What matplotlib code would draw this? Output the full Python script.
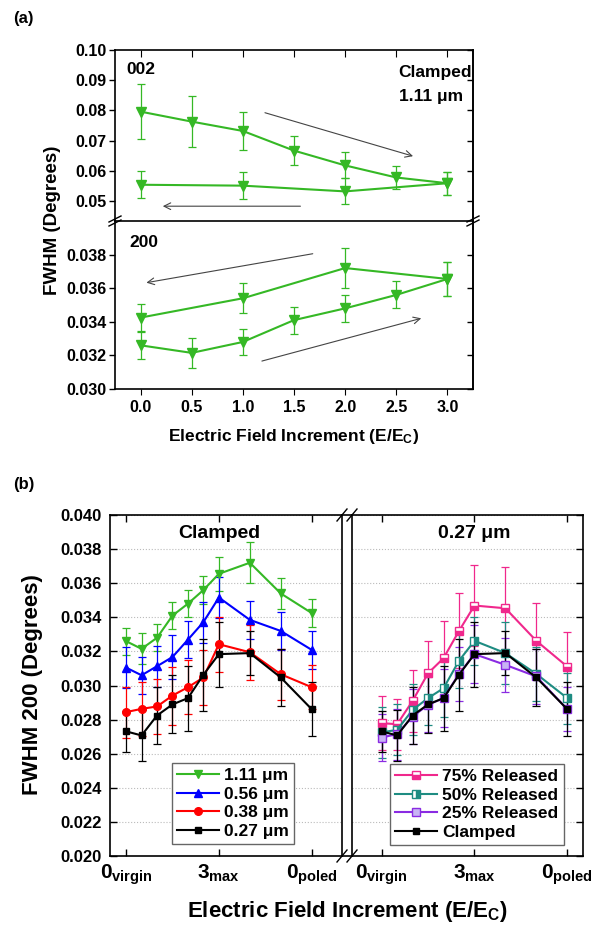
# FWHM vs electric field increment, panels (a) and (b)

import matplotlib
matplotlib.use('Agg')
import matplotlib.pyplot as plt
from matplotlib.lines import Line2D

plt.rcParams['font.family'] = 'Liberation Sans'
plt.rcParams['font.weight'] = 'bold'
plt.rcParams['mathtext.fontset'] = 'custom'
plt.rcParams['mathtext.rm'] = 'Liberation Sans:bold'
plt.rcParams['mathtext.bf'] = 'Liberation Sans:bold'
plt.rcParams['mathtext.it'] = 'Liberation Sans:bold'
plt.rcParams['axes.linewidth'] = 1.2

# ---- data, panel (a): 1.11 um clamped film ----
field_up = [0.0, 0.5, 1.0, 1.5, 2.0, 2.5, 3.0]
field_down = [3.0, 2.0, 1.0, 0.0]

fwhm002_up = [0.0796, 0.0763, 0.0732, 0.0667, 0.0618, 0.0578, 0.0559]
err002_up = [0.0092, 0.0085, 0.0062, 0.0047, 0.0043, 0.0038, 0.0038]
fwhm002_down = [0.0559, 0.0532, 0.0551, 0.0554]
err002_down = [0.0038, 0.0043, 0.0044, 0.0045]

fwhm200_up = [0.0326, 0.03215, 0.0328, 0.0341, 0.0348, 0.0356, 0.03655]
err200_up = [0.0008, 0.0009, 0.0008, 0.0008, 0.0008, 0.0008, 0.0010]
fwhm200_down = [0.03655, 0.0372, 0.0354, 0.03425]
err200_down = [0.0010, 0.0012, 0.0009, 0.0008]

# ---- data, panel (b): sequence of field steps 0 -> 3 -> 0 ----
step = [0, 0.5, 1, 1.5, 2, 2.5, 3, 4, 5, 6]
step_ticks = [0, 3, 6]
step_labels = [r'$0_{virgin}$', r'$3_{max}$', r'$0_{poled}$']

t111 = fwhm200_up + fwhm200_down[1:]
t111_err = err200_up + err200_down[1:]
t056 = [0.03105, 0.0306, 0.03113, 0.03167, 0.03269, 0.03372, 0.03516, 0.03385, 0.0332, 0.03209]
t056_err = [0.0012, 0.0011, 0.0012, 0.0013, 0.0011, 0.0012, 0.0012, 0.0011, 0.0011, 0.0011]
t038 = [0.02844, 0.02863, 0.02877, 0.02941, 0.0299, 0.03047, 0.03242, 0.03195, 0.03066, 0.0299]
t038_err = [0.0015, 0.0016, 0.0016, 0.0017, 0.0016, 0.0016, 0.0016, 0.0016, 0.0015, 0.0013]
t027 = [0.02731, 0.02707, 0.02824, 0.02889, 0.02926, 0.03063, 0.03184, 0.0319, 0.03047, 0.02861]
t027_err = [0.0012, 0.0015, 0.0017, 0.0017, 0.0019, 0.0021, 0.0019, 0.0013, 0.0017, 0.0016]

rel75 = [0.02779, 0.02773, 0.0291, 0.03072, 0.0316, 0.0332, 0.03469, 0.03453, 0.03262, 0.03111]
rel75_err = [0.0016, 0.0015, 0.0018, 0.0019, 0.0022, 0.0022, 0.0024, 0.0024, 0.0022, 0.0020]
rel50 = [0.02725, 0.0274, 0.02857, 0.02926, 0.02984, 0.03145, 0.03262, 0.0319, 0.03068, 0.02926]
rel50_err = [0.0015, 0.0015, 0.0015, 0.0016, 0.0017, 0.0016, 0.0014, 0.0018, 0.0016, 0.0015]
rel25 = [0.02695, 0.02715, 0.02818, 0.02887, 0.02926, 0.03068, 0.03184, 0.03121, 0.03053, 0.02861]
rel25_err = [0.0014, 0.0015, 0.0016, 0.0016, 0.0017, 0.0016, 0.0017, 0.0016, 0.0016, 0.0013]

GREEN = '#35B825'
BLUE = '#0000FF'
RED = '#FF0000'
PINK = '#F0288C'
TEAL = '#1E8C82'
PURPLE = '#8A2BE2'

W, H = 616, 926
fig = plt.figure(figsize=(W / 100, H / 100), dpi=100)


def px_axes(l, t, r, b):
    return fig.add_axes([l / W, 1 - b / H, (r - l) / W, (b - t) / H])


def ftext(x, y, s, **kw):
    kw.setdefault('ha', 'left')
    kw.setdefault('va', 'center')
    fig.text(x / W, 1 - y / H, s, **kw)


def slash(x, y, dx=5, dy=6):
    fig.add_artist(Line2D([(x - dx) / W, (x + dx) / W], [1 - (y + dy) / H, 1 - (y - dy) / H],
                          color='k', lw=1.0))


def eb(ax, x, y, e, color, marker, ms, **kw):
    c = ax.errorbar(x, y, yerr=e, color=color, marker=marker, ms=ms, lw=1.5,
                    elinewidth=0.9, capsize=3, capthick=0.9, mec=color, **kw)
    return c[0]


# ================= panel (a) =================
axt = px_axes(115, 50, 473, 221)
axb = px_axes(115, 221, 473, 389)

eb(axt, field_up, fwhm002_up, err002_up, GREEN, 'v', 7)
eb(axt, field_down, fwhm002_down, err002_down, GREEN, 'v', 7)
eb(axb, field_up, fwhm200_up, err200_up, GREEN, 'v', 7)
eb(axb, field_down, fwhm200_down, err200_down, GREEN, 'v', 7)

for ax in (axt, axb):
    ax.set_xlim(-0.25, 3.25)
    ax.set_xticks(field_up)
    ax.tick_params(axis='y', direction='out', length=4, width=1, labelsize=11.5, pad=2)

axt.set_ylim(0.0434, 0.10)
axt.set_yticks([0.05, 0.06, 0.07, 0.08, 0.09, 0.10])
axt.set_yticklabels(['0.05', '0.06', '0.07', '0.08', '0.09', '0.10'])
axt.spines['bottom'].set_visible(False)
axt.tick_params(axis='x', top=True, bottom=False, direction='in', length=5,
                labelbottom=False)

axb.set_ylim(0.030, 0.040)
axb.set_yticks([0.030, 0.032, 0.034, 0.036, 0.038])
axb.set_yticklabels(['0.030', '0.032', '0.034', '0.036', '0.038'])
axb.set_xticklabels(['%.1f' % v for v in field_up])
axb.tick_params(axis='x', top=False, direction='out', length=4, labelsize=11.5, pad=4)

# right-hand inward ticks
for ax, ticks in ((axt, [0.05, 0.06, 0.07, 0.08, 0.09, 0.10]),
                  (axb, [0.030, 0.032, 0.034, 0.036, 0.038])):
    sec = ax.secondary_yaxis('right')
    sec.set_yticks(ticks)
    sec.tick_params(direction='in', length=4, width=1, labelright=False)

arrow = dict(arrowstyle='->', color='#444444', lw=0.8, mutation_scale=12)
axt.annotate('', xy=(2.69, 0.0646), xytext=(1.19, 0.0795), arrowprops=arrow)
axt.annotate('', xy=(0.19, 0.0483), xytext=(1.59, 0.0483), arrowprops=arrow)
axb.annotate('', xy=(0.03, 0.0363), xytext=(1.71, 0.03808), arrowprops=arrow)
axb.annotate('', xy=(2.77, 0.03425), xytext=(1.16, 0.03162), arrowprops=arrow)

for x in (115, 473):
    slash(x, 219, 6, 3)
    slash(x, 223, 6, 3)

ftext(13, 18, '(a)', fontsize=12)
ftext(126, 69, '002', fontsize=12.5)
ftext(398, 72, 'Clamped', fontsize=12.5)
ftext(399, 97, '1.11 μm', fontsize=12.5)
ftext(129, 243, '200', fontsize=12.5)
ftext(53, 220, 'FWHM (Degrees)', fontsize=13.5, rotation=90, ha='center')
ftext(294, 437, r'Electric Field Increment (E/E$_{C}$)', fontsize=12.5, ha='center')

# ================= panel (b) =================
axl = px_axes(110, 515, 342, 856)
axr = px_axes(352, 515, 583, 856)

h111 = eb(axl, step, t111, t111_err, GREEN, 'v', 6)
h056 = eb(axl, step, t056, t056_err, BLUE, '^', 6)
h038 = eb(axl, step, t038, t038_err, RED, 'o', 5.5)
h027 = eb(axl, step, t027, t027_err, 'k', 's', 5)

h75 = eb(axr, step, rel75, rel75_err, PINK, 's', 5.5, fillstyle='bottom',
         markerfacecoloralt='white')
h50 = eb(axr, step, rel50, rel50_err, TEAL, 's', 5.5, fillstyle='right',
         markerfacecoloralt='white')
h25 = eb(axr, step, rel25, rel25_err, PURPLE, 's', 5.5, mfc='#C8B4F4')
hcl = eb(axr, step, t027, t027_err, 'k', 's', 5)

yt = [0.020, 0.022, 0.024, 0.026, 0.028, 0.030, 0.032, 0.034, 0.036, 0.038, 0.040]
for ax in (axl, axr):
    ax.set_ylim(0.020, 0.040)
    ax.set_yticks(yt)
    ax.set_xticks(step_ticks)
    ax.set_xticklabels(step_labels)
    ax.tick_params(axis='x', top=True, direction='in', length=5, width=1,
                   labelsize=15, pad=5)
    ax.grid(axis='y', color='#BBBBBB', ls=':', lw=0.8)
    ax.set_axisbelow(True)

axl.set_xlim(-0.52, 6.98)
axr.set_xlim(-0.96, 6.51)
axl.set_yticklabels(['%.3f' % v for v in yt])
axl.tick_params(axis='y', direction='in', length=5, width=1, labelsize=12, pad=6)
axr.tick_params(axis='y', left=False, right=True, labelleft=False, direction='in',
                length=5, width=1)

axl.legend([h111, h056, h038, h027], ['1.11 μm', '0.56 μm', '0.38 μm', '0.27 μm'],
           loc='lower left', bbox_to_anchor=(0.266, 0.035), borderaxespad=0,
           fontsize=12.5, handlelength=2.4, handletextpad=0.3, labelspacing=0.2,
           borderpad=0.3, fancybox=False, framealpha=1, edgecolor='#666666')
axr.legend([h75, h50, h25, hcl], ['75% Released', '50% Released', '25% Released', 'Clamped'],
           loc='lower left', bbox_to_anchor=(0.165, 0.032), borderaxespad=0,
           fontsize=12.5, handlelength=2.4, handletextpad=0.3, labelspacing=0.2,
           borderpad=0.3, fancybox=False, framealpha=1, edgecolor='#666666')

for x in (342, 352):
    slash(x, 515)
    slash(x, 856)
for y in (515, 856):
    fig.add_artist(Line2D([342 / W, 352 / W], [1 - y / H, 1 - y / H], color='k', lw=1.2))

ftext(13, 485, '(b)', fontsize=12)
ftext(219, 533, 'Clamped', fontsize=14, ha='center')
ftext(474, 533, '0.27 μm', fontsize=14, ha='center')
ftext(33, 685, 'FWHM 200 (Degrees)', fontsize=16, rotation=90, ha='center')
ftext(347, 912, r'Electric Field Increment (E/E$_{C}$)', fontsize=16, ha='center')

fig.savefig('out.png', dpi=100, facecolor='white')
